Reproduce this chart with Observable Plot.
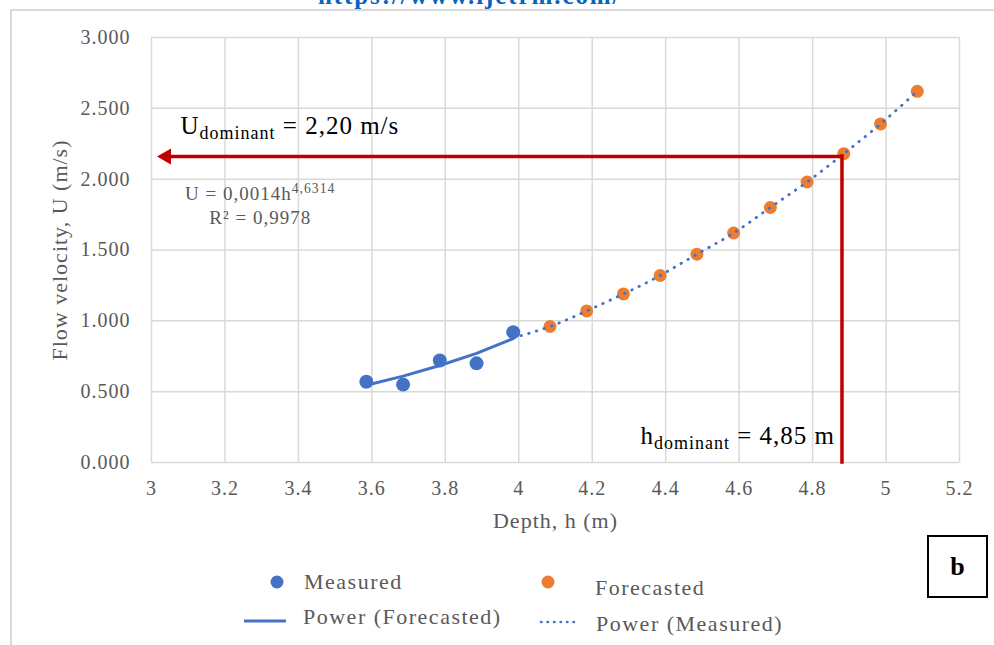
<!DOCTYPE html>
<html><head><meta charset="utf-8">
<script src="https://cdn.jsdelivr.net/npm/d3@7"></script>
<script src="https://cdn.jsdelivr.net/npm/@observablehq/plot@0.6"></script>
<style>
body{margin:0;background:#fff;}
#wrap{position:relative;width:994px;height:645px;overflow:hidden;font-family:"Liberation Serif","Times New Roman",serif;background:#fff;}
#border{position:absolute;left:10px;top:9px;width:1000px;height:700px;border-top:2px solid #d9d9d9;border-left:2px solid #d9d9d9;}
#hdr{position:absolute;left:318px;top:-17px;font-weight:bold;font-size:25px;line-height:25px;color:#0563c1;letter-spacing:1.9px;white-space:nowrap;}
#chart{position:absolute;left:0;top:0;}
.leg{position:absolute;font-size:22px;line-height:22px;color:#595959;letter-spacing:1.5px;white-space:nowrap;}
.sw{position:absolute;}
#bbox{position:absolute;left:927px;top:535px;width:57px;height:59px;border:2px solid #000;font-weight:bold;font-size:26px;display:flex;align-items:center;justify-content:center;}
</style>
</head><body>
<div id="wrap">
  <div id="border"></div>
  <div id="hdr">https://www.ijetrm.com/</div>
  <div id="chart"></div>
  <div id="bbox">b</div>
</div>
<script>
// ---- data ----
const xTicks = [3, 3.2, 3.4, 3.6, 3.8, 4, 4.2, 4.4, 4.6, 4.8, 5, 5.2];
const yTicks = [0, 0.5, 1, 1.5, 2, 2.5, 3];
const measuredH = [3.585, 3.685, 3.785, 3.885, 3.985];
const measuredU = [0.57, 0.55, 0.72, 0.70, 0.92];
const forecastH = [4.085, 4.185, 4.285, 4.385, 4.485, 4.585, 4.685, 4.785, 4.885, 4.985, 5.085];
const forecastU = [0.96, 1.07, 1.19, 1.32, 1.47, 1.62, 1.80, 1.98, 2.18, 2.39, 2.62];
const trendSolidH = [3.585, 3.685, 3.785, 3.885, 3.985];
const trendSolidU = [0.545, 0.61, 0.685, 0.77, 0.875];
const trendDottedH = [3.985, 4.085, 4.185, 4.285, 4.385, 4.485, 4.585, 4.685, 4.785, 4.885, 4.985, 5.085];
const trendDottedU = [0.88, 0.96, 1.07, 1.19, 1.32, 1.47, 1.62, 1.80, 1.98, 2.18, 2.39, 2.62];
const dominantH = 4.88;
const dominantU = 2.16;
const arrowTipH = 3.015;
const notes = [
  {text: "U_{dominant} = 2,20 m/s", h: 3.079, u: 2.322, anchor: "start", size: 25, color: "#000"},
  {text: "U = 0,0014h^{4,6314}", h: 3.296, u: 1.856, anchor: "middle", size: 19, color: "#595959"},
  {text: "R² = 0,9978", h: 3.296, u: 1.687, anchor: "middle", size: 19, color: "#595959"},
  {text: "h_{dominant} = 4,85 m", h: 4.88, u: 0.134, anchor: "end", size: 25, color: "#000", dx: -7}
];
const xLabel = "Depth, h (m)";
const yLabel = "Flow velocity, U (m/s)";
const legendLabels = ["Measured", "Forecasted", "Power (Forecasted)", "Power (Measured)"];
const blue = "#4472c4", orange = "#ed7d31", red = "#c00000", grid = "#d9d9d9", grey = "#595959";

const measured = measuredH.map((h, i) => ({h, u: measuredU[i]}));
const forecast = forecastH.map((h, i) => ({h, u: forecastU[i]}));
const solid = trendSolidH.map((h, i) => ({h, u: trendSolidU[i]}));
const dotted = trendDottedH.map((h, i) => ({h, u: trendDottedU[i]}));

const plot = Plot.plot({
  width: 994, height: 530,
  marginLeft: 151, marginRight: 35, marginTop: 37, marginBottom: 68,
  x: {domain: [3, 5.2]},
  y: {domain: [0, 3]},
  style: {fontFamily: "'Liberation Serif', 'Times New Roman', serif", background: "transparent", overflow: "visible"},
  marks: [
    Plot.gridX(xTicks, {stroke: grid, strokeOpacity: 1, strokeWidth: 1.5}),
    Plot.gridY(yTicks, {stroke: grid, strokeOpacity: 1, strokeWidth: 1.5}),
    Plot.axisX(xTicks, {tickSize: 0, tickPadding: 18, tickFormat: d => String(d), fontSize: 20, fill: grey, label: null}),
    Plot.axisY(yTicks, {tickSize: 0, tickPadding: 21, tickFormat: d3.format(".3f"), fontSize: 20, fill: grey, label: null}),
    Plot.text([xLabel], {frameAnchor: "bottom", dy: 65, lineAnchor: "bottom", fontSize: 22, fill: grey}),
    Plot.text([yLabel], {frameAnchor: "left", textAnchor: "middle", dx: -92, rotate: -90, fontSize: 22, fill: grey}),
    Plot.dot(measured, {x: "h", y: "u", r: 7, fill: blue}),
    Plot.dot(forecast, {x: "h", y: "u", r: 6.5, fill: orange}),
    Plot.line(solid, {x: "h", y: "u", stroke: blue, strokeWidth: 3}),
    Plot.line(dotted, {x: "h", y: "u", stroke: blue, strokeWidth: 2.8, strokeDasharray: "0.5 7.5", strokeLinecap: "round", curve: "natural"}),
    Plot.ruleY([dominantU], {x1: arrowTipH, x2: dominantH, insetLeft: 8, stroke: red, strokeWidth: 3.5, strokeLinecap: "square"}),
    Plot.ruleX([dominantH], {y1: 0, y2: dominantU, stroke: red, strokeWidth: 3.5, strokeLinecap: "square"}),
    Plot.dot([{h: arrowTipH, u: dominantU}], {x: "h", y: "u", symbol: "triangle", rotate: -90, r: 6, fill: red, stroke: "none", dx: 9.3}),
    ...notes.map(n => Plot.text([n], {x: "h", y: "u", text: "text", textAnchor: n.anchor, lineAnchor: "bottom", fontSize: n.size, fill: n.color, dx: n.dx || 0}))
  ]
});
document.getElementById("chart").appendChild(plot);

// letter spacing for axis text
d3.select(plot).selectAll("text").style("letter-spacing", "1px");

// sub/superscripts
d3.select(plot).selectAll("text").each(function() {
  const s = this.textContent;
  if (!/[_^]\{/.test(s)) return;
  const fs = parseFloat(getComputedStyle(this).fontSize);
  const parts = [];
  const re = /([_^])\{([^}]*)\}/g;
  let last = 0, m;
  while ((m = re.exec(s))) {
    if (m.index > last) parts.push({t: s.slice(last, m.index), k: ""});
    parts.push({t: m[2], k: m[1]});
    last = re.lastIndex;
  }
  if (last < s.length) parts.push({t: s.slice(last), k: ""});
  this.textContent = "";
  let shift = 0;
  for (const p of parts) {
    const ts = d3.select(this).append("tspan").text(p.t);
    let target = 0;
    if (p.k === "_") { ts.style("font-size", (fs * 0.72) + "px").style("letter-spacing", "1px"); target = fs * 0.2; }
    else if (p.k === "^") { ts.style("font-size", (fs * 0.72) + "px"); target = -fs * 0.37; }
    const d = target - shift;
    if (d) ts.attr("dy", d);
    shift = target;
  }
});

// legend
const wrap = document.getElementById("wrap");
const legendPos = [
  {sw: "dot", color: blue, sx: 277, sy: 582, tx: 304, ty: 583},
  {sw: "dot", color: orange, sx: 548, sy: 582, tx: 595, ty: 589},
  {sw: "solid", color: blue, sx: 265, sy: 621, tx: 303, ty: 618},
  {sw: "dotted", color: blue, sx: 560, sy: 622, tx: 596, ty: 625}
];
legendLabels.forEach((lab, i) => {
  const p = legendPos[i];
  const svg = d3.select(wrap).append("svg").attr("class", "sw")
    .attr("width", 50).attr("height", 20)
    .style("left", (p.sx - 25) + "px").style("top", (p.sy - 10) + "px");
  if (p.sw === "dot") svg.append("circle").attr("cx", 25).attr("cy", 10).attr("r", 6.5).attr("fill", p.color);
  else svg.append("line").attr("x1", p.sw === "solid" ? 4 : 6).attr("x2", p.sw === "solid" ? 46 : 44).attr("y1", 10).attr("y2", 10)
    .attr("stroke", p.color).attr("stroke-width", p.sw === "solid" ? 3 : 2.5)
    .attr("stroke-linecap", p.sw === "dotted" ? "round" : "butt")
    .attr("stroke-dasharray", p.sw === "dotted" ? "0.5 6" : null);
  d3.select(wrap).append("div").attr("class", "leg").text(lab)
    .style("left", p.tx + "px").style("top", (p.ty - 12) + "px");
});
</script>
</body></html>
